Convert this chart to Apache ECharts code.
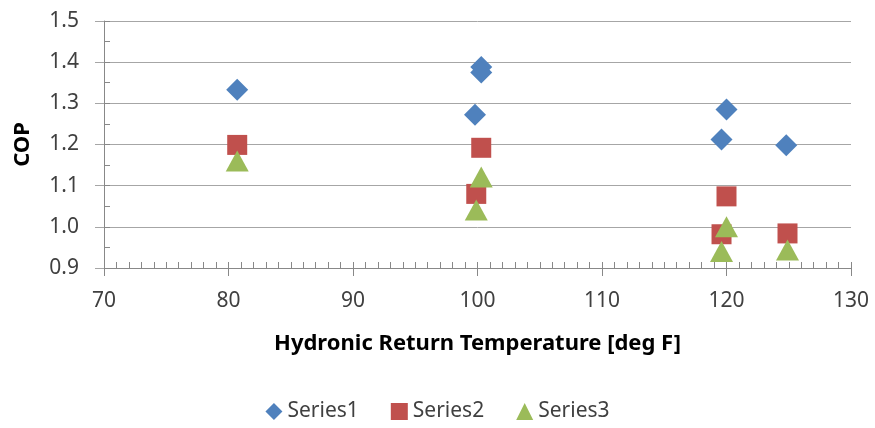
<!DOCTYPE html>
<html>
<head>
<meta charset="utf-8">
<script src="https://cdn.jsdelivr.net/npm/echarts@6/dist/echarts.min.js"></script>
<style>
  html, body { margin: 0; padding: 0; background: #fff; }
  #chart { width: 875px; height: 428px; }
</style>
</head>
<body>
<div id="chart"></div>
<script>
// values
const series1 = [[80.7, 1.333], [100.3, 1.388], [100.3, 1.375], [99.8, 1.272], [120.0, 1.285], [119.6, 1.212], [124.8, 1.198]]
const series2 = [[80.7, 1.199], [100.3, 1.192], [99.9, 1.080], [120.0, 1.074], [119.6, 0.982], [124.9, 0.984]]
const series3 = [[80.7, 1.160], [100.3, 1.121], [99.9, 1.041], [120.0, 1.000], [119.6, 0.940], [124.9, 0.944]]
const seriesNames = ['Series1', 'Series2', 'Series3']

const textColor = '#404040'
const lineColor = '#888888'
const gridColor = '#a6a6a6'
const font = 'Noto Sans'

const chart = echarts.init(document.getElementById('chart'))

const option = {
  animation: false,
  textStyle: { fontFamily: font },
  grid: { left: 104, right: 24, top: 21, bottom: 160 },
  legend: {
    bottom: 1,
    left: 'center',
    itemWidth: 17,
    itemHeight: 17,
    itemGap: 32,
    textStyle: { fontSize: 21, color: textColor, fontFamily: font },
    data: seriesNames
  },
  xAxis: [{
    type: 'value',
    min: 70, max: 130, interval: 10,
    name: 'Hydronic Return Temperature [deg F]',
    nameLocation: 'middle',
    nameGap: 65,
    nameTextStyle: { fontSize: 22, fontWeight: 'bold', color: '#000' },
    axisLine: { show: true, lineStyle: { color: lineColor } },
    axisTick: { show: true, inside: true, length: 6, lineStyle: { color: lineColor } },
    minorTick: { show: true, splitNumber: 10, length: 6, lineStyle: { color: lineColor } },
    axisLabel: { fontSize: 21, color: textColor, margin: 23 },
    splitLine: { show: false }
  }, {
    // outer half of the major ticks
    type: 'value', position: 'bottom',
    min: 70, max: 130, interval: 10,
    axisLine: { show: false },
    axisTick: { show: true, length: 8, lineStyle: { color: lineColor } },
    axisLabel: { show: false },
    splitLine: { show: false }
  }],
  yAxis: [{
    type: 'value',
    min: 0.9, max: 1.5, interval: 0.1,
    name: 'COP',
    nameLocation: 'middle',
    nameGap: 70,
    nameRotate: 90,
    nameTextStyle: { fontSize: 22, fontWeight: 'bold', color: '#000' },
    axisLine: { show: true, lineStyle: { color: lineColor } },
    axisTick: { show: true, inside: true, length: 6, lineStyle: { color: lineColor } },
    minorTick: { show: true, splitNumber: 2, length: 6, lineStyle: { color: lineColor } },
    axisLabel: { fontSize: 21, color: textColor, margin: 25, formatter: v => v.toFixed(1) },
    splitLine: { show: true, lineStyle: { color: gridColor } }
  }, {
    type: 'value', position: 'left',
    min: 0.9, max: 1.5, interval: 0.1,
    axisLine: { show: false },
    axisTick: { show: true, length: 9, lineStyle: { color: gridColor } },
    axisLabel: { show: false },
    splitLine: { show: false }
  }],
  series: [
    { name: 'Series1', type: 'scatter', data: series1, symbol: 'diamond', symbolSize: 22,
      itemStyle: { color: '#4F81BD', opacity: 1 } },
    { name: 'Series2', type: 'scatter', data: series2, symbol: 'rect', symbolSize: 20,
      itemStyle: { color: '#C0504D', opacity: 1, borderRadius: 2 } },
    { name: 'Series3', type: 'scatter', data: series3, symbol: 'triangle', symbolSize: [23, 21],
      itemStyle: { color: '#9BBB59', opacity: 1 } }
  ]
}

chart.setOption(option)
</script>
</body>
</html>
